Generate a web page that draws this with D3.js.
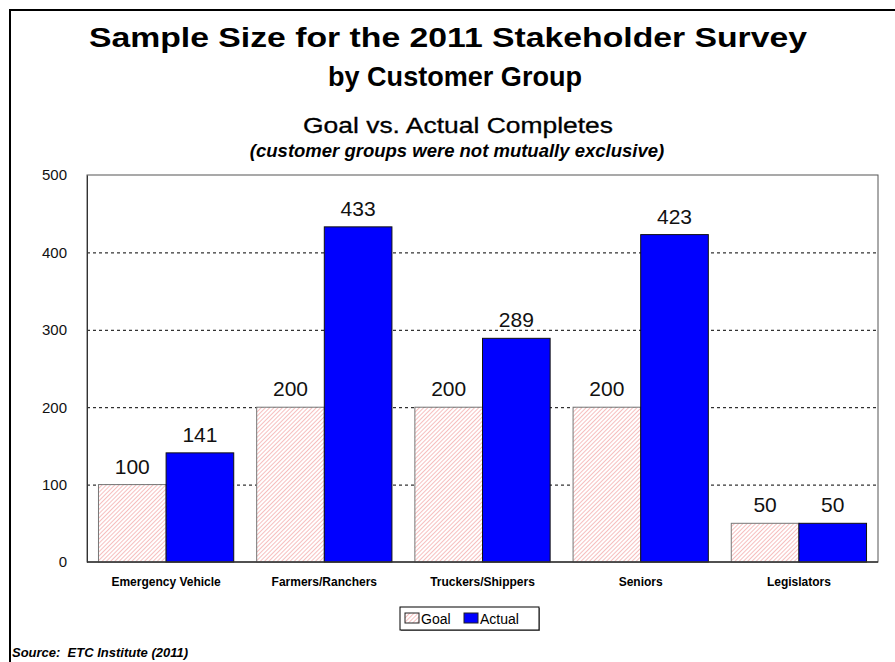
<!DOCTYPE html>
<html lang="en">
    <head>
        <meta charset="utf-8">
        <title>Sample Size for the 2011 Stakeholder Survey</title>
        <style>
            body{
                margin: 0;
                background-color: white;
            }
            svg{
                display: block;
                font-family: Arial, "Liberation Sans", sans-serif;
            }
        </style>
        <script src="https://d3js.org/d3.v7.min.js"></script>
    </head>
    <body></body>
    <script>
        let categories = ["Emergency Vehicle", "Farmers/Ranchers", "Truckers/Shippers", "Seniors", "Legislators"]
        let goal = [100, 200, 200, 200, 50]
        let actual = [141, 433, 289, 423, 50]
        let seriesNames = ["Goal", "Actual"]
        let yTicks = [0, 100, 200, 300, 400, 500]

        let width = 895
        let height = 662
        let plot = {left: 87, top: 175, right: 878, bottom: 562}

        let svg = d3.select("body")
                    .append("svg")
                    .attr("width", width)
                    .attr("height", height)

        // hatch for the goal bars
        let defs = svg.append("defs")
        let pat = defs.append("pattern")
                    .attr("id", "hatch")
                    .attr("patternUnits", "userSpaceOnUse")
                    .attr("width", 3)
                    .attr("height", 3)
                    .attr("patternTransform", "rotate(45)")
        pat.append("rect").attr("width", 3).attr("height", 3).attr("fill", "white")
        pat.append("line")
            .attr("x1", 0).attr("y1", 0).attr("x2", 0).attr("y2", 3)
            .attr("stroke", "#f29c9c")
            .attr("stroke-width", 1.3)

        // outer frame
        svg.append("rect")
            .attr("x", 10).attr("y", 10)
            .attr("width", width + 20).attr("height", height + 20)
            .attr("fill", "none")
            .attr("stroke", "black")
            .attr("stroke-width", 2)

        // titles
        svg.append("text")
            .text("Sample Size for the 2011 Stakeholder Survey")
            .attr("x", 448).attr("y", 47)
            .attr("text-anchor", "middle")
            .attr("font-size", 28).attr("font-weight", "bold")
            .attr("textLength", 718).attr("lengthAdjust", "spacingAndGlyphs")
        svg.append("text")
            .text("by Customer Group")
            .attr("x", 455).attr("y", 86)
            .attr("text-anchor", "middle")
            .attr("font-size", 28).attr("font-weight", "bold")
            .attr("textLength", 254).attr("lengthAdjust", "spacingAndGlyphs")
        svg.append("text")
            .text("Goal vs. Actual Completes")
            .attr("x", 458).attr("y", 133)
            .attr("text-anchor", "middle")
            .attr("font-size", 22)
            .attr("stroke", "black").attr("stroke-width", 0.3)
            .attr("textLength", 310).attr("lengthAdjust", "spacingAndGlyphs")
        svg.append("text")
            .text("(customer groups were not mutually exclusive)")
            .attr("x", 457).attr("y", 157)
            .attr("text-anchor", "middle")
            .attr("font-size", 18.5).attr("font-weight", "bold").attr("font-style", "italic")

        let x = d3.scaleBand()
                    .domain(categories)
                    .range([plot.left, plot.right])
                    .paddingInner(0.145)
                    .paddingOuter(0.0725)
        let xs = d3.scaleBand()
                    .domain(seriesNames)
                    .range([0, x.bandwidth()])
        let y = d3.scaleLinear()
                    .domain([0, 500])
                    .range([plot.bottom, plot.top])

        // plot border
        svg.append("rect")
            .attr("x", plot.left).attr("y", plot.top)
            .attr("width", plot.right - plot.left).attr("height", plot.bottom - plot.top)
            .attr("fill", "none")
            .attr("stroke", "#555")
            .attr("stroke-width", 1)

        // gridlines
        svg.append("g")
            .selectAll("line")
            .data(yTicks.filter(d => d > 0 && d < 500))
            .enter()
            .append("line")
            .attr("x1", plot.left).attr("x2", plot.right)
            .attr("y1", d => y(d) + 0.5).attr("y2", d => y(d) + 0.5)
            .attr("stroke", "black")
            .attr("stroke-dasharray", "3,3")

        // y axis
        let yAxis = d3.axisLeft(y).tickValues(yTicks).tickSize(0).tickPadding(20)
        let yg = svg.append("g")
                    .attr("transform", `translate(${plot.left},0)`)
                    .call(yAxis)
        yg.select(".domain").attr("stroke", "#333")
        yg.selectAll("text")
            .attr("font-size", 15)
            .attr("font-family", "Arial, 'Liberation Sans', sans-serif")
            .attr("fill", "#111")

        let rows = categories.map((c, i) => ({cat: c, vals: [
            {name: "Goal", v: goal[i]},
            {name: "Actual", v: actual[i]}
        ]}))

        let groups = svg.append("g")
                        .selectAll("g")
                        .data(rows)
                        .enter()
                        .append("g")
                        .attr("transform", d => `translate(${x(d.cat)},0)`)

        groups.selectAll("rect")
            .data(d => d.vals)
            .enter()
            .append("rect")
            .attr("x", d => xs(d.name))
            .attr("y", d => y(d.v))
            .attr("width", xs.bandwidth())
            .attr("height", d => y(0) - y(d.v))
            .attr("fill", d => d.name == "Goal" ? "url(#hatch)" : "#0000ff")
            .attr("stroke", d => d.name == "Goal" ? "#777" : "#111")
            .attr("stroke-width", 1)

        groups.selectAll("text.val")
            .data(d => d.vals)
            .enter()
            .append("text")
            .attr("class", "val")
            .text(d => d.v)
            .attr("x", d => xs(d.name) + xs.bandwidth() / 2)
            .attr("y", d => y(d.v) - 11)
            .attr("text-anchor", "middle")
            .attr("font-size", 21)
            .attr("fill", "#111")

        // bottom axis line
        svg.append("line")
            .attr("x1", plot.left).attr("x2", plot.right)
            .attr("y1", plot.bottom).attr("y2", plot.bottom)
            .attr("stroke", "#333").attr("stroke-width", 1.5)

        svg.append("g")
            .selectAll("text")
            .data(categories)
            .enter()
            .append("text")
            .text(d => d)
            .attr("x", d => x(d) + x.bandwidth() / 2)
            .attr("y", 586)
            .attr("text-anchor", "middle")
            .attr("font-size", 12)
            .attr("font-weight", "bold")

        // legend
        let legend = svg.append("g").attr("transform", "translate(400,607)")
        legend.append("rect")
            .attr("x", 1).attr("y", 1).attr("width", 139).attr("height", 23)
            .attr("fill", "#888")
        legend.append("rect")
            .attr("width", 139).attr("height", 23)
            .attr("fill", "white").attr("stroke", "black")
        let legendX = [5, 64]
        let items = legend.selectAll("g")
                        .data(seriesNames)
                        .enter()
                        .append("g")
                        .attr("transform", (d, i) => `translate(${legendX[i]},6)`)
        items.append("rect")
            .attr("width", 14).attr("height", 10)
            .attr("fill", d => d == "Goal" ? "url(#hatch)" : "#0000ff")
            .attr("stroke", "#222")
        items.append("text")
            .text(d => d)
            .attr("x", 16).attr("y", 11)
            .attr("font-size", 14)

        svg.append("text")
            .text("Source:  ETC Institute (2011)")
            .attr("x", 12).attr("y", 657)
            .attr("font-size", 13)
            .attr("font-weight", "bold").attr("font-style", "italic")
            .attr("xml:space", "preserve")
            .style("white-space", "pre")
    </script>
</html>
